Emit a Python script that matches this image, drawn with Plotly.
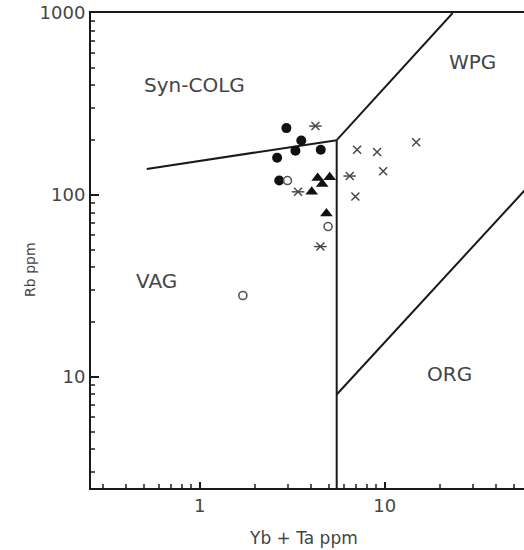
import plotly.graph_objects as go

# ---- data ----
filled_circle_x = [2.94, 3.54, 3.29, 2.62, 4.51, 2.69]
filled_circle_y = [233, 199, 175, 160, 177, 120]

open_circle_x = [2.98, 4.94, 1.71]
open_circle_y = [120, 67, 28]

triangle_x = [4.34, 5.04, 4.59, 4.03, 4.84]
triangle_y = [124, 125, 115, 104, 79]

barred_cross_x = [4.22, 3.40, 6.47, 4.49]
barred_cross_y = [239, 104, 127, 52]

cross_x = [7.09, 9.09, 9.81, 14.8, 6.94]
cross_y = [177, 172, 135, 195, 98]

# field boundaries
syn_vag_x = [0.517, 5.5]
syn_vag_y = [139, 200]
wpg_x = [5.5, 23.3]
wpg_y = [200, 1000]
vag_org_x = [5.5, 5.5]
vag_org_y = [200, 1]
org_wpg_x = [5.5, 60]
org_wpg_y = [8, 112]

x_ticks = [1, 10]
x_tick_text = ["1", "10"]
y_ticks = [10, 100, 1000]
y_tick_text = ["10", "100", "1000"]

field_labels = ["Syn-COLG", "WPG", "VAG", "ORG"]

FONT = "DejaVu Sans"
TXT = "#454545"
LINE = "#1a1a1a"

fig = go.Figure()

for bx, by in [(syn_vag_x, syn_vag_y), (wpg_x, wpg_y), (vag_org_x, vag_org_y), (org_wpg_x, org_wpg_y)]:
    fig.add_trace(go.Scatter(x=bx, y=by, mode="lines",
                             line=dict(color=LINE, width=2), showlegend=False, hoverinfo="skip"))

fig.add_trace(go.Scatter(x=filled_circle_x, y=filled_circle_y, mode="markers",
                         marker=dict(symbol="circle", size=10, color="#111"), showlegend=False))
fig.add_trace(go.Scatter(x=open_circle_x, y=open_circle_y, mode="markers",
                         marker=dict(symbol="circle-open", size=8, color="#555", line=dict(width=1.6)),
                         showlegend=False))
fig.add_trace(go.Scatter(x=triangle_x, y=triangle_y, mode="markers",
                         marker=dict(symbol="triangle-up", size=11, color="#111"), showlegend=False))
fig.add_trace(go.Scatter(x=barred_cross_x, y=barred_cross_y, mode="markers",
                         marker=dict(symbol="x-thin-open", size=8, color="#444", line=dict(width=1.4)),
                         showlegend=False))
fig.add_trace(go.Scatter(x=barred_cross_x, y=barred_cross_y, mode="markers",
                         marker=dict(symbol="line-ew-open", size=9, color="#444", line=dict(width=1.4)),
                         showlegend=False))
fig.add_trace(go.Scatter(x=cross_x, y=cross_y, mode="markers",
                         marker=dict(symbol="x-thin-open", size=8, color="#444", line=dict(width=1.4)),
                         showlegend=False))

minor_x = [v * d for d in [0.1, 1, 10] for v in range(2, 10)]
minor_y = [v * d for d in [1, 10, 100] for v in range(2, 10)]

fig.update_xaxes(type="log", range=[-0.588, 1.753], showgrid=False, zeroline=False,
                 showline=True, linecolor=LINE, linewidth=2, mirror=True,
                 tickmode="array", tickvals=x_ticks, ticktext=x_tick_text,
                 ticks="inside", ticklen=6, tickcolor=LINE, tickwidth=1.5,
                 tickfont=dict(family=FONT, size=18, color=TXT),
                 minor=dict(tickmode="array", tickvals=minor_x, ticks="inside",
                            ticklen=4, tickcolor="#555", showgrid=False))
fig.update_yaxes(type="log", range=[0.389, 3.0], showgrid=False, zeroline=False,
                 showline=True, linecolor=LINE, linewidth=2, mirror=False,
                 tickmode="array", tickvals=y_ticks, ticktext=y_tick_text,
                 ticks="inside", ticklen=8, tickcolor=LINE, tickwidth=1.5,
                 tickfont=dict(family=FONT, size=18, color=TXT),
                 minor=dict(tickmode="array", tickvals=minor_y, ticks="inside",
                            ticklen=4, tickcolor="#555", showgrid=False))

annots = [
    dict(text=field_labels[0], x=0.240, y=0.848),
    dict(text=field_labels[1], x=0.882, y=0.897),
    dict(text=field_labels[2], x=0.152, y=0.436),
    dict(text=field_labels[3], x=0.829, y=0.240),
]
for a in annots:
    fig.add_annotation(xref="paper", yref="paper", showarrow=False,
                       xanchor="center", yanchor="middle",
                       font=dict(family=FONT, size=20, color=TXT), **a)

fig.add_annotation(xref="paper", yref="paper", x=0.49, y=-0.105, text="Yb + Ta ppm",
                   showarrow=False, xanchor="center", yanchor="middle",
                   font=dict(family=FONT, size=17, color=TXT))
fig.add_annotation(xref="paper", yref="paper", x=-0.141, y=0.459, text="Rb ppm",
                   showarrow=False, xanchor="center", yanchor="middle", textangle=-90,
                   font=dict(family=FONT, size=14, color=TXT))

fig.update_layout(width=524, height=550, margin=dict(l=91, r=0, t=13, b=62),
                  paper_bgcolor="white", plot_bgcolor="white")

fig.write_html("out.html")
